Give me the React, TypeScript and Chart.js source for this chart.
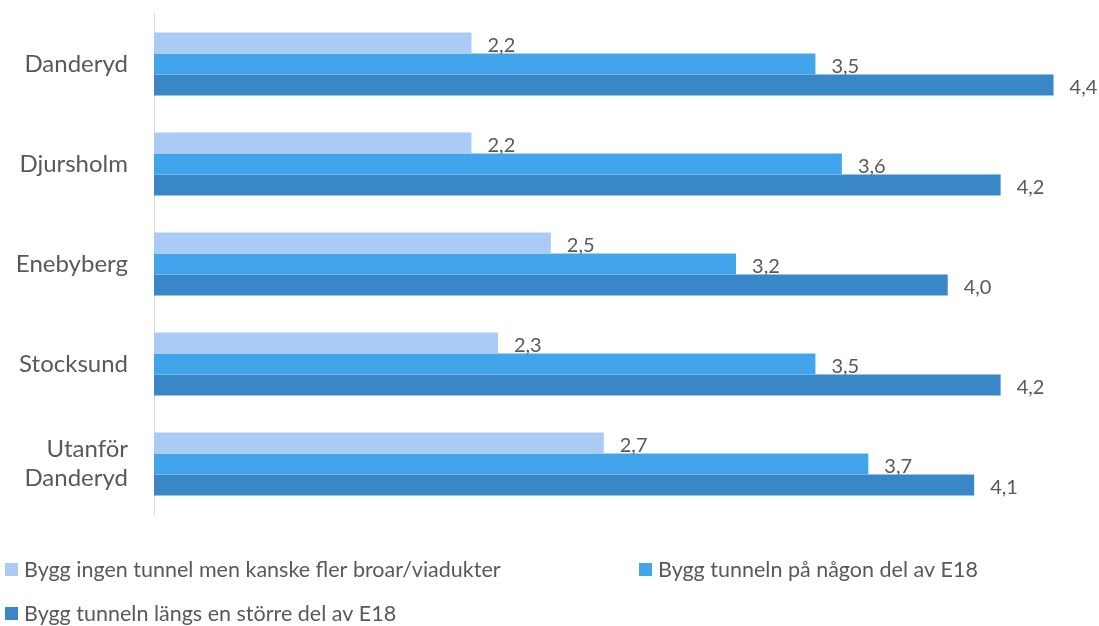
import React, { useEffect, useRef } from "react";
import { Chart, registerables } from "chart.js";

Chart.register(...registerables);

const categories: (string | string[])[] = ["Danderyd", "Djursholm", "Enebyberg", "Stocksund", ["Utanför", "Danderyd"]];
const seriesNames = [
  "Bygg ingen tunnel men kanske fler broar/viadukter",
  "Bygg tunneln på någon del av E18",
  "Bygg tunneln längs en större del av E18",
];
const seriesA = [2.2, 2.2, 2.5, 2.3, 2.7];
const seriesB = [3.5, 3.6, 3.2, 3.5, 3.7];
const seriesC = [4.4, 4.2, 4.0, 4.2, 4.1];
const colors = ["#A9CBF4", "#42A5EC", "#3A87C7"];

const FONT = "Lato, 'Open Sans', sans-serif";
const TEXT = "#595959";

const valueLabels = {
  id: "valueLabels",
  afterDatasetsDraw(chart: any) {
    const ctx = chart.ctx;
    ctx.save();
    ctx.font = `20px ${FONT}`;
    ctx.fillStyle = TEXT;
    ctx.textAlign = "left";
    ctx.textBaseline = "middle";
    chart.data.datasets.forEach((ds: any, di: number) => {
      const meta = chart.getDatasetMeta(di);
      meta.data.forEach((el: any, i: number) => {
        const v = ds.data[i] as number;
        ctx.fillText(v.toFixed(1).replace(".", ","), el.x + 16, el.y + 3);
      });
    });
    ctx.restore();
  },
};

const customLegend = {
  id: "customLegend",
  afterDraw(chart: any) {
    const ctx = chart.ctx;
    ctx.save();
    ctx.font = `21.5px ${FONT}`;
    ctx.textBaseline = "middle";
    ctx.textAlign = "left";
    const cols = [5, 639];
    chart.data.datasets.forEach((ds: any, i: number) => {
      const col = i % 2;
      const row = Math.floor(i / 2);
      const x = cols[col];
      const y = 570 + row * 44;
      ctx.fillStyle = ds.backgroundColor;
      ctx.fillRect(x, y - 7, 13, 13);
      ctx.fillStyle = TEXT;
      ctx.fillText(ds.label, x + 19, y);
    });
    ctx.restore();
  },
};

export default function App() {
  const ref = useRef<HTMLCanvasElement>(null);
  useEffect(() => {
    document.body.style.margin = "0";
    const chart = new Chart(ref.current!, {
      type: "bar",
      data: {
        labels: categories,
        datasets: [seriesA, seriesB, seriesC].map((d, i) => ({
          label: seriesNames[i],
          data: d,
          backgroundColor: colors[i],
          borderWidth: 0,
          categoryPercentage: 0.63,
          barPercentage: 1,
        })),
      },
      options: {
        indexAxis: "y",
        animation: false,
        responsive: true,
        maintainAspectRatio: false,
        layout: { padding: { left: 0, top: 14, right: 19, bottom: 112 } },
        plugins: {
          legend: { display: false },
          tooltip: { enabled: false },
        },
        scales: {
          x: {
            display: false,
            min: 1,
            max: 4.5,
          },
          y: {
            grid: { display: false, drawTicks: false },
            border: { display: true, color: "#D9D9D9", width: 1 },
            ticks: {
              color: TEXT,
              padding: 26,
              font: { family: FONT, size: 24 },
            },
            afterFit(scale: any) {
              scale.width = 154;
              scale.paddingTop = 0;
              scale.paddingBottom = 0;
            },
          },
        },
      },
      plugins: [valueLabels, customLegend],
    });
    return () => chart.destroy();
  }, []);
  return (
    <div style={{ position: "fixed", left: 0, top: 0, width: 1099, height: 626, background: "#fff" }}>
      <canvas ref={ref} />
    </div>
  );
}
